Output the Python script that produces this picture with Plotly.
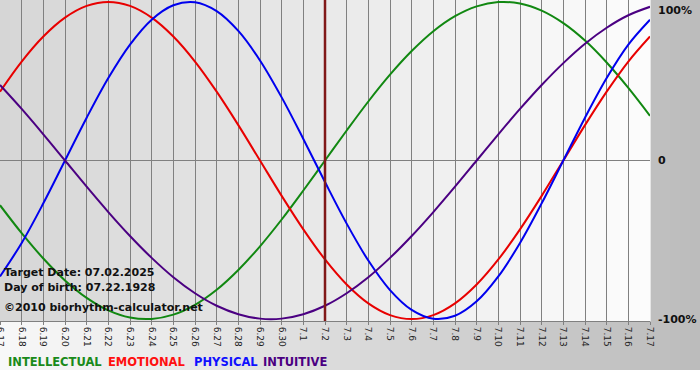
import plotly.graph_objects as go

# ---- data ----
dates = ["6.17", "6.18", "6.19", "6.20", "6.21", "6.22", "6.23", "6.24", "6.25", "6.26",
         "6.27", "6.28", "6.29", "6.30", "7.1", "7.2", "7.3", "7.4", "7.5", "7.6",
         "7.7", "7.8", "7.9", "7.10", "7.11", "7.12", "7.13", "7.14", "7.15", "7.16", "7.17"]

intellectual = [-0.282, -0.458, -0.618, -0.756, -0.866, -0.945, -0.990, -0.999, -0.972, -0.910,
                -0.815, -0.690, -0.541, -0.372, -0.189, 0.0, 0.189, 0.372, 0.541, 0.690,
                0.815, 0.910, 0.972, 0.999, 0.990, 0.945, 0.866, 0.756, 0.618, 0.458, 0.282]
emotional = [0.434, 0.624, 0.782, 0.901, 0.975, 1.0, 0.975, 0.901, 0.782, 0.624,
             0.434, 0.223, 0.0, -0.223, -0.434, -0.624, -0.782, -0.901, -0.975, -1.0,
             -0.975, -0.901, -0.782, -0.624, -0.434, -0.223, 0.0, 0.223, 0.434, 0.624, 0.782]
physical = [-0.731, -0.520, -0.270, 0.0, 0.270, 0.520, 0.731, 0.888, 0.979, 0.998,
            0.942, 0.817, 0.631, 0.398, 0.136, -0.136, -0.398, -0.631, -0.817, -0.942,
            -0.998, -0.979, -0.888, -0.731, -0.520, -0.270, 0.0, 0.270, 0.520, 0.731, 0.888]
intuitive = [0.476, 0.325, 0.165, 0.0, -0.165, -0.325, -0.476, -0.614, -0.736, -0.837,
             -0.916, -0.969, -0.997, -0.997, -0.969, -0.916, -0.837, -0.736, -0.614, -0.476,
             -0.325, -0.165, 0.0, 0.165, 0.325, 0.476, 0.614, 0.736, 0.837, 0.916, 0.969]

series_names = ["INTELLECTUAL", "EMOTIONAL", "PHYSICAL", "INTUITIVE"]
series_colors = ["#118811", "#e80000", "#0000ee", "#4b0082"]
legend_colors = ["#1a8a1a", "#ff1010", "#1010ff", "#4b0082"]
target_date = "7.2"
info_lines = ["Target Date: 07.02.2025", "Day of birth: 07.22.1928", "\u00a92010 biorhythm-calculator.net"]
y_labels = ["100%", "0", "-100%"]
y_label_vals = [1, 0, -1]

# ---- layout geometry ----
W, H = 700, 380
PL, PR, PT, PB = 0, 50, 0, 59
plot_w = W - PL - PR
plot_h = H - PT - PB


def px_x(p):
    return (p - PL) / plot_w


def px_y(p):
    return (H - PB - p) / plot_h


x = list(range(len(dates)))
fig = go.Figure()

for name, vals, col in zip(series_names, [intellectual, emotional, physical, intuitive], series_colors):
    fig.add_trace(go.Scatter(x=x, y=vals, mode="lines", name=name,
                             line=dict(color=col, width=2, shape="spline"),
                             showlegend=False, hoverinfo="skip"))

shapes = []


def lerp(a, b, t):
    return int(round(a + (b - a) * t))


# outer gradient (paper) light left -> darker right, down to pixel 370
n = 70
for i in range(n):
    t = i / (n - 1)
    c = lerp(248, 188, t)
    shapes.append(dict(type="rect", xref="paper", yref="paper", layer="below",
                       x0=px_x(i * W / n), x1=px_x((i + 1) * W / n + 0.5),
                       y0=px_y(370), y1=px_y(0),
                       fillcolor=f"rgb({c},{c},{c})", line=dict(width=0)))
# inner plot gradient darker left -> white right
m = 65
for i in range(m):
    t = i / (m - 1)
    c = lerp(214, 252, t)
    shapes.append(dict(type="rect", xref="paper", yref="paper", layer="below",
                       x0=i / m, x1=(i + 1) / m + 0.001, y0=0, y1=1,
                       fillcolor=f"rgb({c},{c},{c})", line=dict(width=0)))
fig.update_layout(shapes=shapes)

fig.add_vline(x=dates.index(target_date), line=dict(color="#801818", width=2.5))

ann = []
info_y = [272, 287, 307]
for txt, py in zip(info_lines, info_y):
    ann.append(dict(text=f"<b>{txt}</b>", xref="paper", yref="paper", x=px_x(2), y=px_y(py),
                    xanchor="left", yanchor="middle", showarrow=False,
                    font=dict(family="DejaVu Sans", size=11, color="#111111")))
for txt, v in zip(y_labels, y_label_vals):
    ann.append(dict(text=f"<b>{txt}</b>", xref="paper", yref="y", x=px_x(656), y=v,
                    xanchor="left", yanchor="top" if v == 1 else "middle",
                    showarrow=False,
                    font=dict(family="DejaVu Sans", size=11, color="#111111")))
leg_x = [6, 106, 192, 261]
for txt, col, lx in zip(series_names, legend_colors, leg_x):
    ann.append(dict(text=f"<b>{txt}</b>", xref="paper", yref="paper", x=px_x(lx), y=px_y(362),
                    xanchor="left", yanchor="middle", showarrow=False,
                    font=dict(family="DejaVu Sans", size=11.5, color=col)))
fig.update_layout(annotations=ann)

fig.update_layout(
    width=W, height=H,
    margin=dict(l=PL, r=PR, t=PT, b=PB, pad=0, autoexpand=False),
    paper_bgcolor="white",
    plot_bgcolor="rgba(0,0,0,0)",
    xaxis=dict(range=[0, len(dates) - 1], tickvals=x, ticktext=dates, tickangle=90,
               showgrid=True, gridcolor="#808080", gridwidth=1,
               zeroline=False, showline=True, linecolor="#808080", linewidth=1,
               ticks="outside", ticklen=3, tickcolor="#808080", ticklabeloverflow="allow",
               automargin=False,
               tickfont=dict(family="DejaVu Sans", size=9, color="#222222")),
    yaxis=dict(range=[-1.012, 1.012], showgrid=False, showticklabels=False,
               zeroline=True, zerolinecolor="#808080", zerolinewidth=1,
               showline=False, fixedrange=True, automargin=False),
    showlegend=False,
)

fig.write_html("out.html", config={"displayModeBar": False},
               post_script="document.body.style.margin='0';document.body.style.overflow='hidden';")
